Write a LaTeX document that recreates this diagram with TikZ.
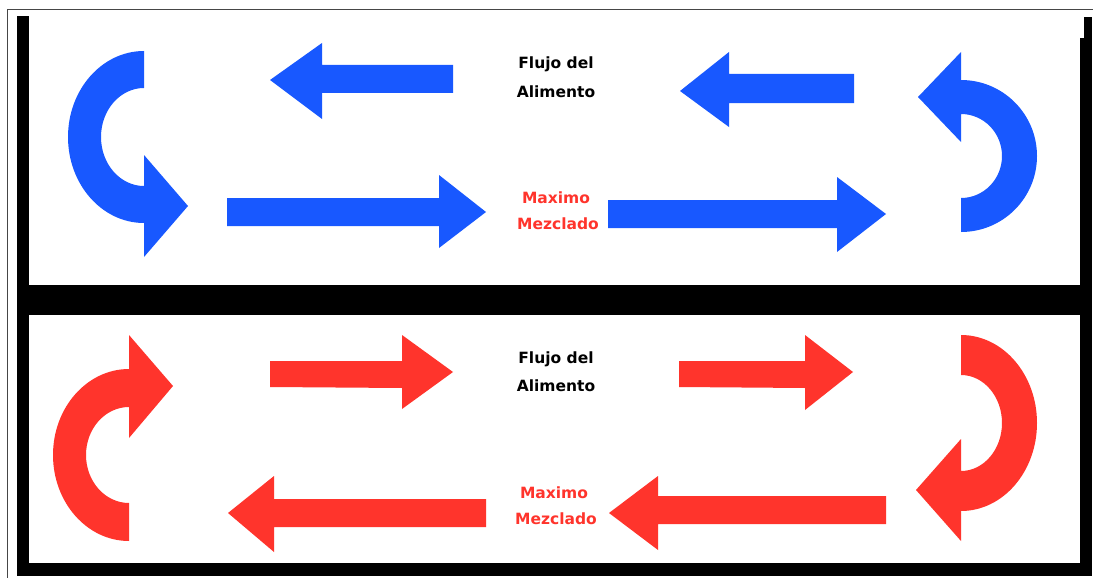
\documentclass[tikz,border=0pt]{standalone}
\usepackage{fontspec}
\newfontfamily\flowfont{DejaVu Sans}
\definecolor{flowblue}{RGB}{24,88,255}
\definecolor{flowred}{RGB}{255,52,44}
\definecolor{framegray}{RGB}{70,70,70}
\tikzset{
  bluearrow/.style={fill=flowblue},
  redarrow/.style={fill=flowred},
  wall/.style={fill=black},
  flowtext/.style={font=\flowfont\bfseries\fontsize{15.5}{18}\selectfont, inner sep=0pt, anchor=base},
}
\begin{document}
\begin{tikzpicture}[x=1pt, y=-1pt]
\useasboundingbox (0,0) rectangle (1093,578);
\fill[white] (0,0) rectangle (1093,578);

% thin outer frame line
\draw[framegray, line width=1pt] (7,578) -- (7,10) -- (1093,10);

% black walls of the two channels
\fill[wall] (17,16) rectangle (29,576);
\fill[wall] (1084,17) rectangle (1092,38);
\fill[wall] (1080,38) rectangle (1092,576);
\fill[wall] (17,285) rectangle (1092,315);
\fill[wall] (17,563) rectangle (1092,576);

% ---------- upper channel (blue) ----------
% curved return, left side
\fill[bluearrow] (144,51) arc[start angle=270, end angle=90, x radius=76, y radius=86]
  -- (144,257) -- (188,206) -- (144,155) -- (144,186)
  arc[start angle=90, end angle=270, x radius=43, y radius=49] -- cycle;
% curved return, right side
\fill[bluearrow] (961,232) arc[start angle=90, end angle=-90, x radius=76, y radius=76]
  -- (961,52) -- (918,97) -- (961,142) -- (961,114)
  arc[start angle=-90, end angle=90, x radius=41, y radius=42] -- cycle;
% straight arrows
\fill[bluearrow] (453,65) -- (322,65) -- (322,43) -- (270,80) -- (322,119) -- (322,93) -- (453,93) -- cycle;
\fill[bluearrow] (854,74) -- (729,74) -- (729,52) -- (680,91) -- (729,127) -- (729,103) -- (854,103) -- cycle;
\fill[bluearrow] (227,198) -- (439,198) -- (439,175) -- (486,212) -- (439,248) -- (439,226) -- (227,226) -- cycle;
\fill[bluearrow] (608,200) -- (837,200) -- (837,177) -- (886,214) -- (837,252) -- (837,228) -- (608,228) -- cycle;

\node[flowtext, text=black] (flujoA) at (556,69) {Flujo del};
\node[flowtext, text=black] (alimA) at (556,97) {Alimento};
\node[flowtext, text=flowred] (maxA) at (556,203) {Maximo};
\node[flowtext, text=flowred] (mezA) at (558,229) {Mezclado};

% ---------- lower channel (red) ----------
% curved return, left side
\fill[redarrow] (129,541) arc[start angle=90, end angle=270, x radius=76, y radius=86]
  -- (129,335) -- (173,386) -- (129,438) -- (129,407)
  arc[start angle=270, end angle=90, x radius=43, y radius=48] -- cycle;
% curved return, right side
\fill[redarrow] (961,335) arc[start angle=-90, end angle=90, x radius=76, y radius=88]
  -- (961,541) -- (916,490) -- (961,439) -- (961,471)
  arc[start angle=90, end angle=-90, x radius=41, y radius=48] -- cycle;
% straight arrows
\fill[redarrow] (270,361) -- (402,361) -- (402,335) -- (453,372) -- (402,409) -- (402,388) -- (270,387) -- cycle;
\fill[redarrow] (679,361) -- (805,361) -- (805,335) -- (853,372) -- (805,410) -- (805,388) -- (679,387) -- cycle;
\fill[redarrow] (486,499) -- (274,499) -- (274,476) -- (228,513) -- (274,552) -- (274,527) -- (486,527) -- cycle;
\fill[redarrow] (886,496) -- (658,496) -- (658,476) -- (609,513) -- (658,550) -- (658,524) -- (886,524) -- cycle;

\node[flowtext, text=black] (flujoB) at (556,363) {Flujo del};
\node[flowtext, text=black] (alimB) at (556,391) {Alimento};
\node[flowtext, text=flowred] (maxB) at (554,498) {Maximo};
\node[flowtext, text=flowred] (mezB) at (556,524) {Mezclado};
\end{tikzpicture}
\end{document}
